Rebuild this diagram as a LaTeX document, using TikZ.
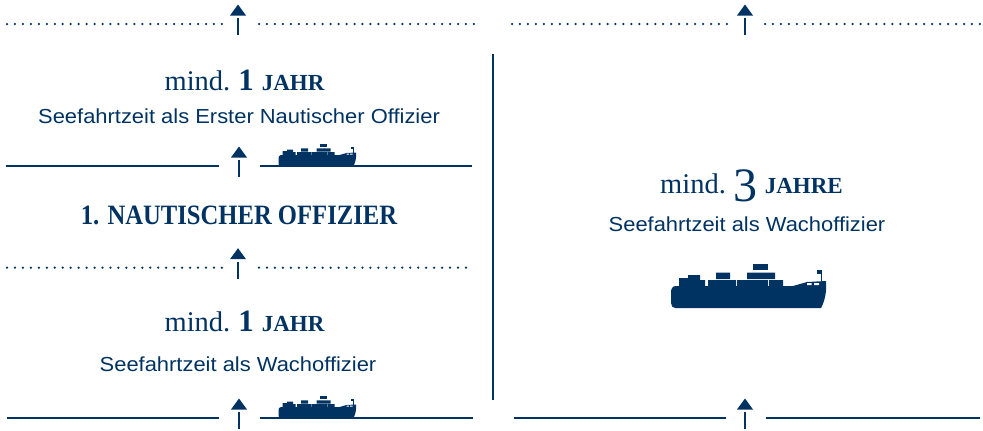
\documentclass[tikz,border=0pt]{standalone}
\usepackage{fontspec}
\setmainfont{Liberation Serif}
\newfontfamily\sansfont[FakeStretch=1.08]{Liberation Sans}
\newfontfamily\headfont[FakeStretch=0.88]{Liberation Serif}
\definecolor{navy}{RGB}{0,50,98}
\tikzset{
	uparrow/.pic={
		\fill[navy] (-8,-8.5) -- (8,-8.5) -- (0,-19.5) -- cycle;
		\draw[navy,line width=1.6pt] (0,-6) -- (0,11);
	},
	ship/.pic={
		\fill[navy] (4,0) -- (150,0) .. controls (154,-7) and (156,-18) .. (155,-27)
			-- (136,-26) -- (122,-22) -- (5,-22) .. controls (1,-22) and (0,-19) .. (0,-15)
			-- (0,-5) .. controls (0,-2) and (2,0) .. (4,0) -- cycle;
		\fill[navy] (8,-22) -- (8,-30) -- (17,-30) -- (17,-33) -- (29,-33) -- (29,-28)
			-- (34,-28) -- (34,-22) -- cycle;
		\fill[navy] (37,-22) rectangle (65.2,-28) (66.2,-22) rectangle (96.8,-28)
			(97.8,-22) rectangle (112,-28);
		\fill[navy] (45,-28.8) rectangle (59,-35.5) (76,-28.8) rectangle (104,-35.5);
		\fill[navy] (82,-38.3) rectangle (97,-44);
		\draw[navy,line width=1pt] (150.7,-27) -- (150.7,-38.3);
		\fill[navy] (145.7,-34) rectangle (150.7,-38.3);
		\fill[white] (136,-23) rectangle (140.5,-25) (143,-23) rectangle (148,-25);
	}
}

\begin{document}
\begin{tikzpicture}[x=1pt,y=-1pt,
		dotrow/.style={navy,line width=2.5pt,line cap=round,dash pattern=on 0pt off 7.96pt},
		solidrow/.style={navy,line width=1.5pt},
		sub/.style={navy,anchor=base,inner sep=0pt,font=\sansfont\fontsize{20.3}{24}\selectfont},
		head/.style={navy,anchor=base,inner sep=0pt,font=\headfont\bfseries\fontsize{28}{32}\selectfont},
		amount/.style={navy,anchor=base,inner sep=0pt,font=\fontsize{28.5}{32}\selectfont}]
	\useasboundingbox (0,0) rectangle (983,431);

	\draw[dotrow] (7,24) -- (222,24) (259,24) -- (474,24);
	\draw[dotrow] (512,24) -- (727,24) (765,24) -- (980,24);
	\draw[dotrow] (7,267.7) -- (222,267.7) (259,267.7) -- (473,267.7);
	\draw[solidrow] (6,166) -- (219,166) (260,166) -- (472,166);
	\draw[solidrow] (7,418) -- (219,418) (260,418) -- (473,418);
	\draw[solidrow] (514,418) -- (726,418) (766,418) -- (980,418);
	\draw[solidrow] (493,54) -- (493,400);

	\pic at (238,24) {uparrow};
	\pic at (745,24) {uparrow};
	\pic at (239,166) {uparrow};
	\pic at (238,267.7) {uparrow};
	\pic at (239,418) {uparrow};
	\pic at (745,418) {uparrow};

	\pic[scale=0.5] at (278.5,166) {ship};
	\pic[scale=0.5] at (278.5,418) {ship};
	\pic at (671,308) {ship};

	\node[amount] (erster) at (244.5,90) {mind.\hspace{8pt}{\bfseries\fontsize{31}{32}\selectfont 1}\hspace{8pt}{\bfseries\fontsize{23}{26}\selectfont JAHR}};
	\node[sub] (erstertxt) at (239,123) {Seefahrtzeit als Erster Nautischer Offizier};
	\node[head] (titel) at (239,224) {1. NAUTISCHER OFFIZIER};
	\node[amount] (wach) at (244.5,331.7) {mind.\hspace{8pt}{\bfseries\fontsize{31}{32}\selectfont 1}\hspace{8pt}{\bfseries\fontsize{23}{26}\selectfont JAHR}};
	\node[sub] (wachtxt) at (238,371.7) {Seefahrtzeit als Wachoffizier};
	\node[amount] (wachlang) at (751.5,193) {mind.\hspace{8pt}\raisebox{-8pt}{\fontsize{48}{48}\selectfont 3}\hspace{7pt}{\bfseries\fontsize{23}{26}\selectfont JAHRE}};
	\node[sub] (wachlangtxt) at (747,231.7) {Seefahrtzeit als Wachoffizier};
\end{tikzpicture}
\end{document}
